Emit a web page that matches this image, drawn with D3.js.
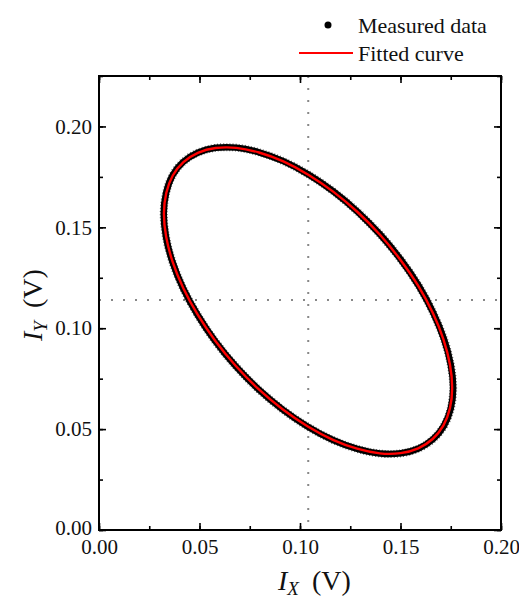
<!DOCTYPE html>
<html>
<head>
<meta charset="utf-8">
<script src="https://cdn.jsdelivr.net/npm/d3@7"></script>
<style>
  body { margin: 0; background: #fff; }
  svg { display: block; font-family: "Liberation Serif", "Times New Roman", serif; }
</style>
</head>
<body>
<svg id="chart" width="519" height="599"></svg>
<script>
// values (volts), going round the loop
const fitX = [0.1660, 0.1713, 0.1746, 0.1757, 0.1746, 0.1714, 0.1661, 0.1590, 0.1501, 0.1399,
              0.1286, 0.1165, 0.1041, 0.0917, 0.0796, 0.0683, 0.0580, 0.0492, 0.0420, 0.0367,
              0.0335, 0.0323, 0.0334, 0.0366, 0.0419, 0.0491, 0.0579, 0.0681, 0.0794, 0.0915,
              0.1039, 0.1164, 0.1284, 0.1397, 0.1500, 0.1588];
const fitY = [0.0451, 0.0517, 0.0603, 0.0705, 0.0820, 0.0944, 0.1075, 0.1207, 0.1337, 0.1462,
              0.1576, 0.1677, 0.1761, 0.1827, 0.1871, 0.1894, 0.1893, 0.1869, 0.1823, 0.1757,
              0.1671, 0.1569, 0.1454, 0.1330, 0.1199, 0.1067, 0.0937, 0.0813, 0.0698, 0.0597,
              0.0513, 0.0447, 0.0403, 0.0380, 0.0381, 0.0405];
const measX = [0.1662, 0.1716, 0.1750, 0.1762, 0.1750, 0.1717, 0.1663, 0.1592, 0.1503, 0.1400,
               0.1287, 0.1166, 0.1042, 0.0917, 0.0796, 0.0683, 0.0580, 0.0491, 0.0419, 0.0366,
               0.0334, 0.0322, 0.0333, 0.0365, 0.0418, 0.0490, 0.0578, 0.0680, 0.0794, 0.0915,
               0.1039, 0.1164, 0.1285, 0.1398, 0.1502, 0.1590];
const measY = [0.0450, 0.0516, 0.0602, 0.0704, 0.0820, 0.0944, 0.1076, 0.1208, 0.1338, 0.1463,
               0.1577, 0.1678, 0.1762, 0.1828, 0.1872, 0.1895, 0.1894, 0.1870, 0.1824, 0.1758,
               0.1671, 0.1569, 0.1454, 0.1330, 0.1199, 0.1067, 0.0936, 0.0812, 0.0697, 0.0596,
               0.0512, 0.0446, 0.0402, 0.0379, 0.0380, 0.0404];
const centerX = 0.1041;   // vertical dotted line
const centerY = 0.1140;   // horizontal dotted line
const xTicks = [0, 0.05, 0.10, 0.15, 0.20];
const yTicks = [0, 0.05, 0.10, 0.15, 0.20];
const minorTicks = [0, 0.025, 0.05, 0.075, 0.10, 0.125, 0.15, 0.175, 0.20, 0.225];
const legendLabels = ["Measured data", "Fitted curve"];

const svg = d3.select("#chart");
const margin = { left: 99, right: 18, top: 76, bottom: 69 },
      W = 519, H = 599;

const x = d3.scaleLinear().domain([0, 0.2]).range([margin.left, W - margin.right]);
const y = d3.scaleLinear().domain([0, 0.225]).range([H - margin.bottom, margin.top]);

// dotted guide lines
svg.append("line")
  .attr("x1", x(centerX)).attr("x2", x(centerX))
  .attr("y1", y(0.225)).attr("y2", y(0))
  .attr("stroke", "#888").attr("stroke-width", 2).attr("stroke-dasharray", "2,10");
svg.append("line")
  .attr("x1", x(0)).attr("x2", x(0.2))
  .attr("y1", y(centerY)).attr("y2", y(centerY))
  .attr("stroke", "#888").attr("stroke-width", 2).attr("stroke-dasharray", "2,10");

// measured data (thick black band) + fitted curve
const line = d3.line().x(d => x(d[0])).y(d => y(d[1])).curve(d3.curveCardinalClosed);
const meas = measX.map((v, i) => [v, measY[i]]);
const fit = fitX.map((v, i) => [v, fitY[i]]);

svg.append("path")
  .attr("d", line(meas))
  .attr("fill", "none").attr("stroke", "#000").attr("stroke-width", 6.5);
// speckled fringe of the scattered points
svg.append("path")
  .attr("d", line(meas))
  .attr("fill", "none").attr("stroke", "#000").attr("stroke-width", 8)
  .attr("stroke-dasharray", "1,2").attr("opacity", 0.6);
svg.append("path")
  .attr("d", line(fit))
  .attr("fill", "none").attr("stroke", "#ff0000").attr("stroke-width", 2.4);

// axes: ticks point inward, mirrored on top/right
function styleAxis(g) {
  g.select(".domain").remove();
  g.selectAll(".tick line").attr("stroke", "#000").attr("stroke-width", 1.6);
  g.selectAll(".tick text")
    .attr("fill", "#111")
    .style("font-size", "21px")
    .style("font-family", "'Liberation Serif', serif");
}

const bottomY = y(0), topY = y(0.225), leftX = x(0), rightX = x(0.2);

svg.append("g").attr("transform", `translate(0,${bottomY})`)
  .call(d3.axisBottom(x).tickValues(minorTicks.filter(d => d <= 0.2)).tickSize(-4).tickFormat(""))
  .call(styleAxis);
svg.append("g").attr("transform", `translate(0,${bottomY})`)
  .call(d3.axisBottom(x).tickValues(xTicks).tickSize(-7).tickPadding(9).tickFormat(d3.format(".2f")))
  .call(styleAxis);
svg.append("g").attr("transform", `translate(0,${topY})`)
  .call(d3.axisTop(x).tickValues(minorTicks.filter(d => d <= 0.2)).tickSize(-4).tickFormat(""))
  .call(styleAxis);
svg.append("g").attr("transform", `translate(0,${topY})`)
  .call(d3.axisTop(x).tickValues(xTicks).tickSize(-7).tickFormat(""))
  .call(styleAxis);

svg.append("g").attr("transform", `translate(${leftX},0)`)
  .call(d3.axisLeft(y).tickValues(minorTicks).tickSize(-4).tickFormat(""))
  .call(styleAxis);
svg.append("g").attr("transform", `translate(${leftX},0)`)
  .call(d3.axisLeft(y).tickValues(yTicks).tickSize(-7).tickPadding(7).tickFormat(d3.format(".2f")))
  .call(styleAxis);
svg.append("g").attr("transform", `translate(${rightX},0)`)
  .call(d3.axisRight(y).tickValues(minorTicks).tickSize(-4).tickFormat(""))
  .call(styleAxis);
svg.append("g").attr("transform", `translate(${rightX},0)`)
  .call(d3.axisRight(y).tickValues(yTicks).tickSize(-7).tickFormat(""))
  .call(styleAxis);

// nudge the y "0.00" up a touch so it clears the x "0.00"
svg.selectAll("text").filter(function () {
  return this.textContent === "0.00" && this.getAttribute("x") !== null && +this.getAttribute("x") < 0;
}).attr("dy", "0.2em");

// frame
svg.append("rect")
  .attr("x", leftX).attr("y", topY)
  .attr("width", rightX - leftX).attr("height", bottomY - topY)
  .attr("fill", "none").attr("stroke", "#000").attr("stroke-width", 2);

// axis titles
const xt = svg.append("text")
  .attr("x", 278).attr("y", 590)
  .style("font-size", "28px").attr("fill", "#111");
xt.append("tspan").style("font-style", "italic").text("I");
xt.append("tspan").style("font-style", "italic").style("font-size", "19px").attr("dy", 5).text("X");
xt.append("tspan").attr("dy", -5).attr("dx", 13).text("(V)");

const yt = svg.append("text")
  .attr("transform", "translate(42,341) rotate(-90)")
  .style("font-size", "28px").attr("fill", "#111");
yt.append("tspan").style("font-style", "italic").text("I");
yt.append("tspan").style("font-style", "italic").style("font-size", "19px").attr("dy", 5).text("Y");
yt.append("tspan").attr("dy", -5).attr("dx", 13).text("(V)");

// legend
const legend = svg.append("g");
legend.append("circle").attr("cx", 328).attr("cy", 25).attr("r", 3.5).attr("fill", "#000");
legend.append("line")
  .attr("x1", 299).attr("x2", 353).attr("y1", 53).attr("y2", 53)
  .attr("stroke", "#ff0000").attr("stroke-width", 2);
legend.selectAll("text.lab")
  .data(legendLabels)
  .join("text")
    .attr("class", "lab")
    .attr("x", 358)
    .attr("y", (d, i) => 33 + i * 28)
    .style("font-size", "22px")
    .attr("fill", "#111")
    .text(d => d);
</script>
</body>
</html>
